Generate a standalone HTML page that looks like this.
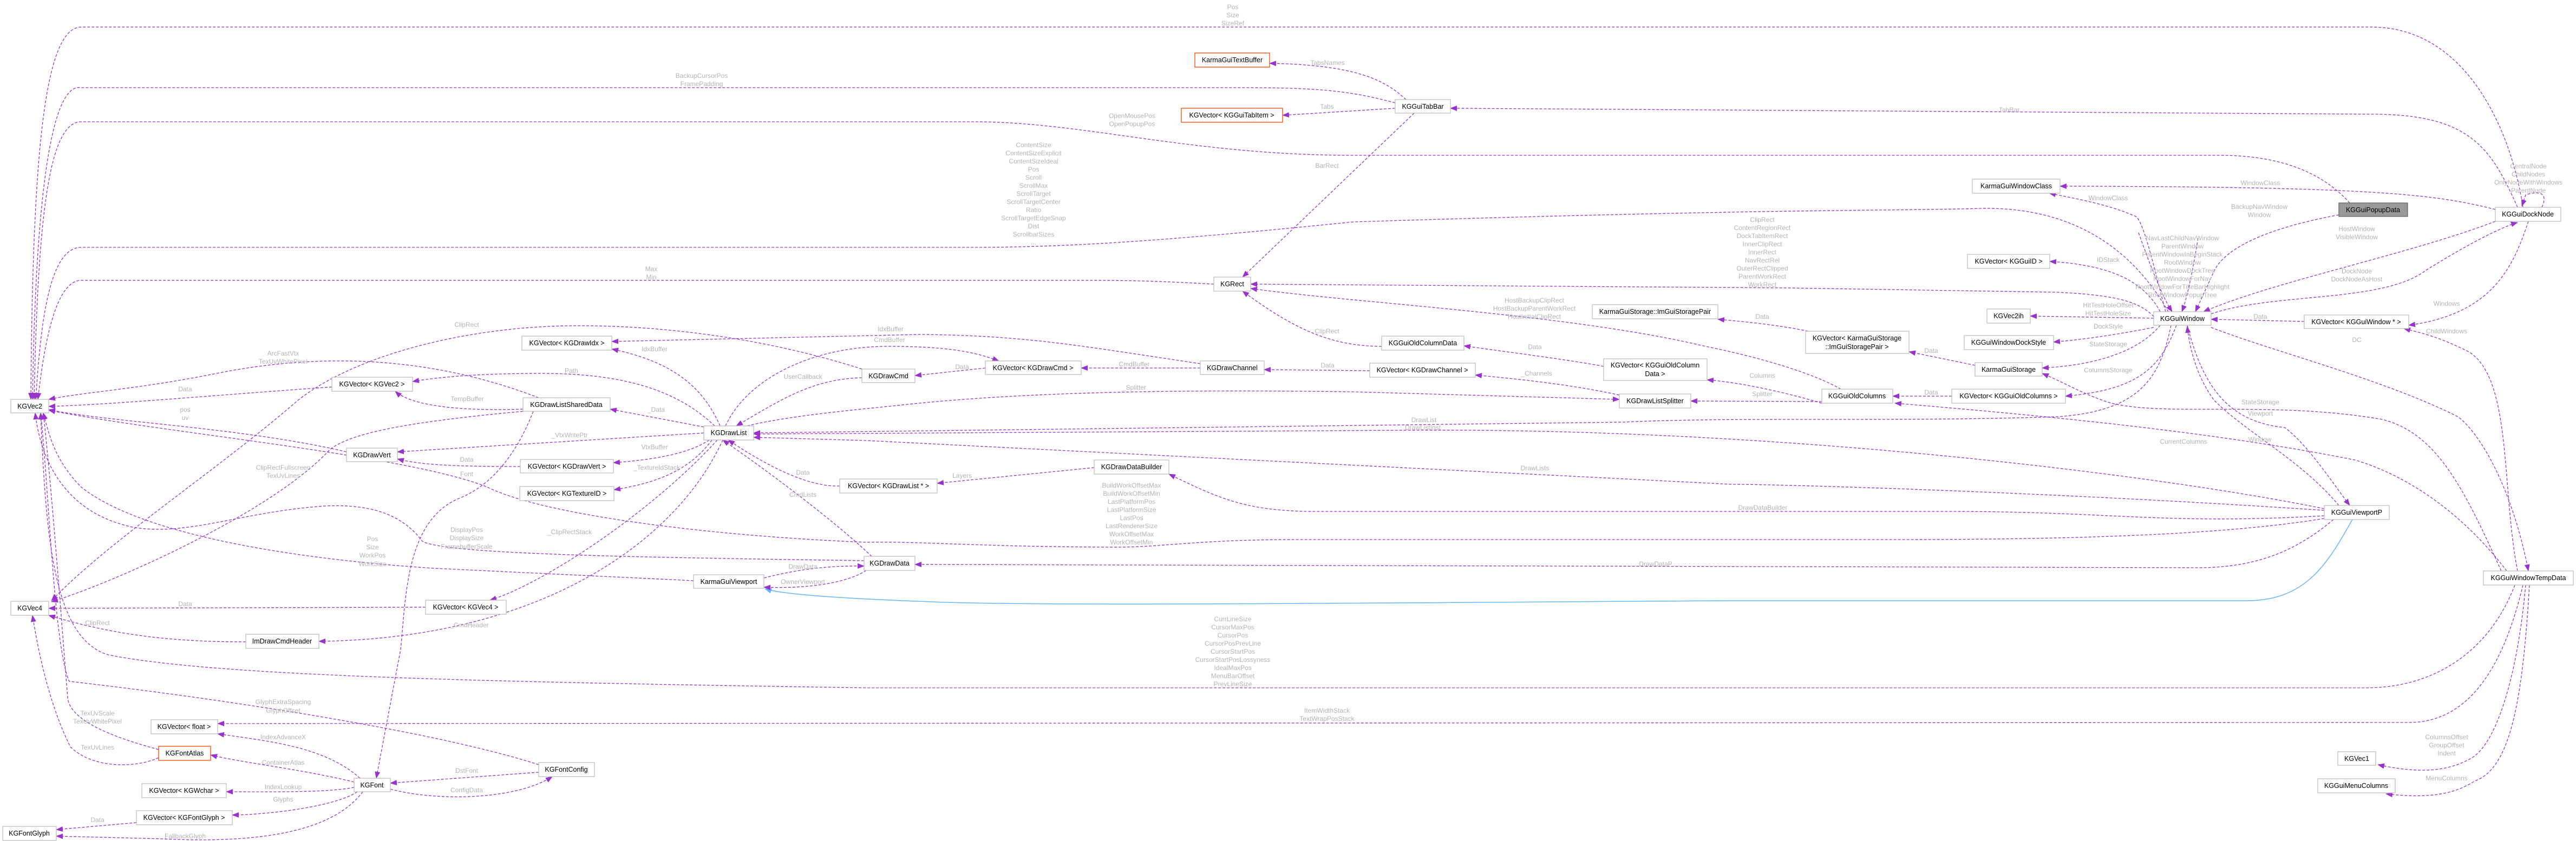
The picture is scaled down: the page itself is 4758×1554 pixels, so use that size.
<!DOCTYPE html>
<html><head><meta charset="utf-8"><style>
html,body{margin:0;padding:0;background:#fff;}
svg{display:block;}
.n rect{fill:#fff;stroke:#bfbfbf;stroke-width:1.3;}
.n text{font-family:"Liberation Sans",sans-serif;font-size:12.5px;fill:#000;text-anchor:middle;}
.e{fill:none;stroke:#9a32cd;stroke-width:1.3;stroke-dasharray:5,3;marker-end:url(#a);}
.l{font-family:"Liberation Sans",sans-serif;font-size:12px;fill:#b4b4b4;text-anchor:middle;}
</style></head><body>
<svg width="4758" height="1554" viewBox="0 0 4758 1554" xmlns="http://www.w3.org/2000/svg">
<defs>
<marker id="a" markerUnits="userSpaceOnUse" markerWidth="13" markerHeight="10" refX="12" refY="5" orient="auto"><path d="M0,0 L13,5 L0,10 z" fill="#9a32cd"/></marker>
<marker id="b" markerUnits="userSpaceOnUse" markerWidth="13" markerHeight="10" refX="12" refY="5" orient="auto"><path d="M0,0 L13,5 L0,10 z" fill="#63b8ff"/></marker>
</defs>

<!-- edges -->
<path class="e" d="M4660,383 C4640,250 4560,50 4380,50 L150,50 C80,50 60,300 57,738"/>
<path class="e" d="M2577,190 C2500,170 2450,162 2300,162 L150,162 C90,150 65,400 60,738"/>
<path class="e" d="M4340,375 C4300,330 4230,287 4100,287 L2500,287 C2200,287 2000,225 1800,225 L150,225 C90,225 70,400 63,738"/>
<path class="e" d="M4005,576 C3950,480 3850,382 3660,385 C3500,390 3300,385 2500,410 C2200,440 2000,457 1800,457 L150,457 C90,457 75,600 66,738"/>
<path class="e" d="M2242,525 C2150,520 2100,518 2000,518 L150,518 C100,518 80,650 70,738"/>
<path class="e" d="M2597,184 C2560,150 2510,120 2345,117"/>
<path class="e" d="M2577,200 L2369,213"/>
<path class="e" d="M2612,209 L2295,512"/>
<path class="e" d="M4650,383 C4600,270 4560,211 4380,211 L2679,200"/>
<path class="e" d="M4609,387 C4500,360 4400,345 3805,344"/>
<path class="e" d="M4000,576 C3980,500 3960,410 3945,400 C3900,380 3850,370 3785,357"/>
<path class="e" d="M4320,397 C4250,410 4120,440 4090,500 L4055,576"/>
<path class="e" d="M4695,383 C4710,350 4680,355 4665,360 L4658,381"/>
<path class="e" d="M4609,409 C4450,470 4200,520 4070,576"/>
<path class="e" d="M4084,580 C4200,540 4400,560 4480,500 C4560,450 4620,420 4650,411"/>
<path class="e" d="M3950,430 C3975,500 3995,550 4012,576"/>
<path class="e" d="M4060,440 C4050,500 4040,550 4030,576"/>
<path class="e" d="M3978,585 C3950,555 3900,545 3800,540 L3300,532 L2310,525"/>
<path class="e" d="M3990,576 C3960,520 3900,490 3786,483"/>
<path class="e" d="M3978,588 L3750,584"/>
<path class="e" d="M3978,605 C3900,620 3850,627 3793,632"/>
<path class="e" d="M3990,601 C3950,650 3870,675 3772,680"/>
<path class="e" d="M4020,601 C3990,680 3950,720 3815,732"/>
<path class="e" d="M4256,594 L4084,590"/>
<path class="e" d="M4670,409 C4640,500 4600,580 4449,601"/>
<path class="e" d="M4650,1055 C4620,900 4640,700 4560,650 C4500,620 4470,615 4440,607"/>
<path class="e" d="M4084,605 C4200,650 4400,700 4540,770 C4580,800 4640,900 4670,1055"/>
<path class="e" d="M3648,675 L3526,650"/>
<path class="e" d="M3340,612 C3280,600 3230,595 3173,590"/>
<path class="e" d="M3400,719 C3350,690 3250,660 3150,640 C2900,580 2500,560 2310,533"/>
<path class="e" d="M3365,745 C3280,720 3200,705 3153,702"/>
<path class="e" d="M3365,742 L3123,741"/>
<path class="e" d="M3605,732 L3496,732"/>
<path class="e" d="M2962,677 C2900,665 2780,650 2704,639"/>
<path class="e" d="M2552,640 C2450,640 2380,600 2295,538"/>
<path class="e" d="M4010,601 C3990,700 3950,760 3800,770 C3500,780 3200,770 3000,780 L1392,800"/>
<path class="e" d="M4293,940 C4000,880 3300,790 2600,795 L1392,802"/>
<path class="e" d="M4293,943 C3800,910 3300,895 3200,895 L1600,814 L1392,808"/>
<path class="e" d="M4293,953 C4000,970 3900,945 3600,945 L2430,945 C2300,945 2250,920 2159,876"/>
<path class="e" d="M4293,958 C4100,990 3800,997 3500,997 L2400,997 C2200,997 2150,1012 2050,1011 C1800,1010 1700,1000 1600,1002 C1300,990 1000,950 900,900 C750,840 300,800 90,758"/>
<path class="e" d="M4310,960 C4250,1010 4180,1049 4060,1049 L1690,1043"/>
<path d="M4345,960 C4300,1040 4260,1110 4150,1110 L3200,1110 C2500,1114 2000,1120 1750,1113 C1600,1108 1450,1100 1413,1088" fill="none" stroke="#63b8ff" stroke-width="1.5" marker-end="url(#b)"/>
<path class="e" d="M1411,1068 C1480,1050 1540,1045 1596,1046"/>
<path class="e" d="M1600,1054 C1560,1080 1480,1088 1411,1085"/>
<path class="e" d="M1610,1028 C1560,980 1460,900 1335,813"/>
<path class="e" d="M1281,1073 L800,1050 C500,1030 250,980 150,900 C100,850 90,800 80,763"/>
<path class="e" d="M1596,1036 C1200,1030 820,1025 780,1000 C750,960 700,930 600,935 C450,945 350,990 250,975 C120,950 75,850 65,763"/>
<path class="e" d="M1551,898 C1500,900 1430,870 1345,813"/>
<path class="e" d="M2021,864 L1731,893"/>
<path class="e" d="M4645,1081 C4600,1200 4500,1271 4370,1271 L1600,1271 C900,1260 400,1250 200,1210 C100,1180 85,1000 75,763"/>
<path class="e" d="M4660,1081 C4620,1250 4550,1335 4450,1335 L402,1337"/>
<path class="e" d="M4630,1055 C4550,950 4450,880 4350,850 C4100,800 3800,770 3500,745"/>
<path class="e" d="M4040,601 C4070,720 4120,780 4220,790 C4260,820 4300,880 4340,934"/>
<path class="e" d="M4320,934 C4250,850 4150,800 4090,740 C4060,700 4045,650 4040,603"/>
<path class="e" d="M4620,1055 C4550,900 4500,800 4400,775 C4200,740 4000,770 3900,745 C3850,730 3820,710 3772,690"/>
<path class="e" d="M4665,1081 C4650,1250 4610,1380 4561,1403 C4520,1425 4470,1430 4392,1413"/>
<path class="e" d="M4672,1081 C4660,1280 4640,1420 4571,1443 C4530,1470 4480,1475 4407,1467"/>
<path class="e" d="M1592,698 C1500,700 1440,740 1360,787"/>
<path class="e" d="M1330,787 C1300,720 1250,670 1130,645"/>
<path class="e" d="M2217,672 C2000,640 1900,620 1700,618 L1130,631"/>
<path class="e" d="M2217,680 L1997,680"/>
<path class="e" d="M1340,787 C1380,700 1500,640 1640,640 C1750,640 1800,650 1845,667"/>
<path class="e" d="M1820,680 L1690,694"/>
<path class="e" d="M2530,685 L2335,683"/>
<path class="e" d="M2991,730 C2900,710 2800,700 2725,693"/>
<path class="e" d="M1380,787 C1450,770 1550,760 1650,750 C1900,722 2200,720 2500,724 L2991,738"/>
<path class="e" d="M1592,682 C1400,620 1200,600 1050,602 C850,605 650,660 550,740 C400,870 200,1000 95,1110"/>
<path class="e" d="M1320,787 C1250,720 1150,690 1000,690 C900,690 820,695 762,705"/>
<path class="e" d="M1300,789 L1127,756"/>
<path class="e" d="M1300,800 L734,835"/>
<path class="e" d="M1310,813 C1270,840 1200,850 1133,855"/>
<path class="e" d="M1315,813 C1280,860 1230,890 1134,905"/>
<path class="e" d="M1325,813 C1200,950 1000,1080 905,1109"/>
<path class="e" d="M1335,813 C1250,1000 1000,1180 589,1185"/>
<path class="e" d="M995,735 C800,660 600,650 400,690 C250,720 150,725 90,738"/>
<path class="e" d="M966,756 C850,760 760,750 730,723"/>
<path class="e" d="M966,760 C750,780 650,800 610,830 C500,950 200,1080 95,1112"/>
<path class="e" d="M985,760 C950,850 900,900 850,920 C750,960 750,1100 740,1200 L695,1438"/>
<path class="e" d="M613,715 C400,730 200,748 90,751"/>
<path class="e" d="M640,835 C450,790 200,780 90,757"/>
<path class="e" d="M961,862 C850,862 780,860 734,848"/>
<path class="e" d="M786,1122 L90,1124"/>
<path class="e" d="M454,1186 C300,1186 200,1170 90,1137"/>
<path class="e" d="M995,1413 C800,1350 400,1290 128,1259 C100,1200 90,900 75,763"/>
<path class="e" d="M293,1385 C200,1360 130,1330 125,1290 C110,1100 95,900 80,763"/>
<path class="e" d="M293,1400 C250,1420 170,1420 130,1380 C90,1300 70,1200 60,1137"/>
<path class="e" d="M665,1438 C600,1380 500,1370 402,1356"/>
<path class="e" d="M654,1445 C550,1420 450,1410 389,1395"/>
<path class="e" d="M654,1455 C600,1465 500,1463 418,1463"/>
<path class="e" d="M660,1463 C620,1490 500,1505 429,1506"/>
<path class="e" d="M670,1463 C620,1530 500,1560 300,1550 L104,1545"/>
<path class="e" d="M252,1520 L104,1533"/>
<path class="e" d="M995,1427 L721,1447"/>
<path class="e" d="M721,1458 C800,1480 950,1480 1020,1435"/>

<!-- labels -->
<g class="l">
<text x="2277" y="17">Pos</text><text x="2277" y="32">Size</text><text x="2277" y="47">SizeRef</text>
<text x="1296" y="144">BackupCursorPos</text><text x="1296" y="159">FramePadding</text>
<text x="2452" y="120">TabsNames</text><text x="2451" y="201">Tabs</text>
<text x="2091" y="218">OpenMousePos</text><text x="2091" y="233">OpenPopupPos</text>
<text x="3711" y="207">TabBar</text>
<text x="1909" y="272">ContentSize</text><text x="1909" y="287">ContentSizeExplicit</text><text x="1909" y="302">ContentSizeIdeal</text><text x="1909" y="317">Pos</text><text x="1909" y="332">Scroll</text><text x="1909" y="347">ScrollMax</text><text x="1909" y="362">ScrollTarget</text><text x="1909" y="377">ScrollTargetCenter</text><text x="1909" y="392">Ratio</text><text x="1909" y="407">ScrollTargetEdgeSnap</text><text x="1909" y="422">Dist</text><text x="1909" y="437">ScrollbarSizes</text><text x="1909" y="452">...</text>
<text x="2451" y="310">BarRect</text>
<text x="4670" y="311">CentralNode</text><text x="4670" y="326">ChildNodes</text><text x="4670" y="341">OnlyNodeWithWindows</text><text x="4670" y="356">ParentNode</text>
<text x="4175" y="342">WindowClass</text><text x="3894" y="370">WindowClass</text>
<text x="4173" y="386">BackupNavWindow</text><text x="4173" y="401">Window</text>
<text x="4353" y="427">HostWindow</text><text x="4353" y="442">VisibleWindow</text>
<text x="3255" y="410">ClipRect</text><text x="3255" y="425">ContentRegionRect</text><text x="3255" y="440">DockTabItemRect</text><text x="3255" y="455">InnerClipRect</text><text x="3255" y="470">InnerRect</text><text x="3255" y="485">NavRectRel</text><text x="3255" y="500">OuterRectClipped</text><text x="3255" y="515">ParentWorkRect</text><text x="3255" y="530">WorkRect</text>
<text x="4031" y="444">NavLastChildNavWindow</text><text x="4031" y="459">ParentWindow</text><text x="4031" y="474">ParentWindowInBeginStack</text><text x="4031" y="489">RootWindow</text><text x="4031" y="504">RootWindowDockTree</text><text x="4031" y="519">RootWindowForNav</text><text x="4031" y="534">RootWindowForTitleBarHighlight</text><text x="4031" y="549">RootWindowPopupTree</text>
<text x="3894" y="484">IDStack</text>
<text x="4353" y="505">DockNode</text><text x="4353" y="520">DockNodeAsHost</text>
<text x="1203" y="501">Max</text><text x="1203" y="516">Min</text>
<text x="4519" y="565">Windows</text>
<text x="3894" y="568">HitTestHoleOffset</text><text x="3894" y="583">HitTestHoleSize</text>
<text x="4175" y="589">Data</text><text x="3255" y="589">Data</text>
<text x="4519" y="616">ChildWindows</text><text x="3894" y="607">DockStyle</text><text x="4353" y="632">DC</text>
<text x="3894" y="640">StateStorage</text><text x="3567" y="652">Data</text>
<text x="3255" y="698">Columns</text><text x="3894" y="688">ColumnsStorage</text><text x="3567" y="729">Data</text><text x="3255" y="732">Splitter</text>
<text x="4175" y="747">StateStorage</text><text x="4175" y="768">Viewport</text>
<text x="2834" y="559">HostBackupClipRect</text><text x="2834" y="574">HostBackupParentWorkRect</text><text x="2834" y="589">HostInitialClipRect</text>
<text x="2451" y="616">ClipRect</text><text x="2835" y="645">Data</text>
<text x="1645" y="612">IdxBuffer</text><text x="1643" y="632">CmdBuffer</text>
<text x="2095" y="677">CmdBuffer</text><text x="1777" y="682">Data</text><text x="2452" y="679">Data</text><text x="2838" y="694">_Channels</text><text x="2095" y="720">_Splitter</text>
<text x="2630" y="780">DrawList</text><text x="2628" y="794">DrawListInst</text><text x="2835" y="869">DrawLists</text>
<text x="1777" y="883">Layers</text>
<text x="2090" y="901">BuildWorkOffsetMax</text><text x="2090" y="916">BuildWorkOffsetMin</text><text x="2090" y="931">LastPlatformPos</text><text x="2090" y="946">LastPlatformSize</text><text x="2090" y="961">LastPos</text><text x="2090" y="976">LastRendererSize</text><text x="2090" y="991">WorkOffsetMax</text><text x="2090" y="1006">WorkOffsetMin</text>
<text x="3256" y="942">DrawDataBuilder</text><text x="3058" y="1046">DrawDataP</text>
<text x="4033" y="820">CurrentColumns</text><text x="4174" y="816">Window</text>
<text x="2277" y="1148">CurrLineSize</text><text x="2277" y="1163">CursorMaxPos</text><text x="2277" y="1178">CursorPos</text><text x="2277" y="1193">CursorPosPrevLine</text><text x="2277" y="1208">CursorStartPos</text><text x="2277" y="1223">CursorStartPosLossyness</text><text x="2277" y="1238">IdealMaxPos</text><text x="2277" y="1253">MenuBarOffset</text><text x="2277" y="1268">PrevLineSize</text>
<text x="2451" y="1317">ItemWidthStack</text><text x="2451" y="1332">TextWrapPosStack</text>
<text x="4519" y="1366">ColumnsOffset</text><text x="4519" y="1381">GroupOffset</text><text x="4519" y="1396">Indent</text><text x="4519" y="1442">MenuColumns</text>
<text x="862" y="604">ClipRect</text><text x="523" y="657">ArcFastVtx</text><text x="523" y="672">TexUvWhitePixel</text>
<text x="1209" y="649">IdxBuffer</text><text x="1052" y="689">_Path</text><text x="1483" y="700">UserCallback</text>
<text x="342" y="723">Data</text><text x="863" y="741">TempBuffer</text><text x="1212" y="761">_Data</text>
<text x="342" y="761">pos</text><text x="342" y="776">uv</text>
<text x="1052" y="808">_VtxWritePtr</text><text x="1209" y="830">VtxBuffer</text><text x="862" y="853">Data</text><text x="1213" y="868">_TextureIdStack</text><text x="862" y="880">Font</text>
<text x="1483" y="877">Data</text><text x="1483" y="918">CmdLists</text>
<text x="523" y="868">ClipRectFullscreen</text><text x="523" y="883">TexUvLines</text>
<text x="862" y="983">DisplayPos</text><text x="862" y="998">DisplaySize</text><text x="862" y="1014">FramebufferScale</text>
<text x="1052" y="987">_ClipRectStack</text>
<text x="688" y="1000">Pos</text><text x="688" y="1015">Size</text><text x="688" y="1030">WorkPos</text><text x="688" y="1046">WorkSize</text>
<text x="1483" y="1051">DrawData</text><text x="1483" y="1079">OwnerViewport</text>
<text x="342" y="1120">Data</text><text x="180" y="1155">ClipRect</text><text x="867" y="1159">_CmdHeader</text>
<text x="523" y="1301">GlyphExtraSpacing</text><text x="523" y="1317">GlyphOffset</text>
<text x="180" y="1322">TexUvScale</text><text x="180" y="1337">TexUvWhitePixel</text>
<text x="523" y="1366">IndexAdvanceX</text><text x="180" y="1385">TexUvLines</text><text x="523" y="1413">ContainerAtlas</text>
<text x="862" y="1428">DstFont</text><text x="523" y="1458">IndexLookup</text><text x="862" y="1464">ConfigData</text>
<text x="523" y="1481">Glyphs</text><text x="180" y="1519">Data</text><text x="342" y="1549">FallbackGlyph</text>
</g>

<!-- nodes -->
<g class="n">
<rect x="20" y="738" width="70" height="25"/><text x="55" y="755">KGVec2</text>
<rect x="20" y="1111" width="70" height="26"/><text x="55" y="1128">KGVec4</text>
<rect x="964" y="621" width="166" height="26"/><text x="1047" y="638">KGVector&lt; KGDrawIdx &gt;</text>
<rect x="613" y="697" width="149" height="26"/><text x="687" y="714">KGVector&lt; KGVec2 &gt;</text>
<rect x="966" y="735" width="161" height="25"/><text x="1046" y="752">KGDrawListSharedData</text>
<rect x="1300" y="787" width="92" height="26"/><text x="1346" y="804">KGDrawList</text>
<rect x="640" y="828" width="94" height="25"/><text x="687" y="845">KGDrawVert</text>
<rect x="961" y="849" width="172" height="25"/><text x="1047" y="866">KGVector&lt; KGDrawVert &gt;</text>
<rect x="960" y="899" width="174" height="26"/><text x="1047" y="916">KGVector&lt; KGTextureID &gt;</text>
<rect x="786" y="1109" width="149" height="26"/><text x="860" y="1126">KGVector&lt; KGVec4 &gt;</text>
<rect x="1281" y="1062" width="130" height="25"/><text x="1346" y="1079">KarmaGuiViewport</text>
<rect x="454" y="1172" width="135" height="26"/><text x="521" y="1189">ImDrawCmdHeader</text>
<rect x="279" y="1330" width="123" height="26"/><text x="340" y="1347">KGVector&lt; float &gt;</text>
<rect x="293" y="1379" width="96" height="26" style="stroke:#ff4500"/><text x="341" y="1396">KGFontAtlas</text>
<rect x="654" y="1438" width="67" height="25"/><text x="687" y="1455">KGFont</text>
<rect x="995" y="1409" width="103" height="26"/><text x="1046" y="1426">KGFontConfig</text>
<rect x="262" y="1448" width="156" height="26"/><text x="340" y="1465">KGVector&lt; KGWchar &gt;</text>
<rect x="252" y="1498" width="177" height="26"/><text x="340" y="1515">KGVector&lt; KGFontGlyph &gt;</text>
<rect x="5" y="1527" width="99" height="26"/><text x="54" y="1544">KGFontGlyph</text>
<rect x="1551" y="885" width="180" height="26"/><text x="1641" y="902">KGVector&lt; KGDrawList * &gt;</text>
<rect x="1596" y="1028" width="94" height="26"/><text x="1643" y="1045">KGDrawData</text>
<rect x="1592" y="682" width="98" height="25"/><text x="1641" y="699">KGDrawCmd</text>
<rect x="2207" y="98" width="138" height="26" style="stroke:#ff4500"/><text x="2276" y="115">KarmaGuiTextBuffer</text>
<rect x="2577" y="184" width="102" height="25"/><text x="2628" y="201">KGGuiTabBar</text>
<rect x="2182" y="200" width="187" height="26" style="stroke:#ff4500"/><text x="2275" y="217">KGVector&lt; KGGuiTabItem &gt;</text>
<rect x="2242" y="512" width="68" height="26"/><text x="2276" y="529">KGRect</text>
<rect x="2941" y="563" width="232" height="26"/><text x="3057" y="580">KarmaGuiStorage::ImGuiStoragePair</text>
<rect x="2552" y="621" width="152" height="26"/><text x="2628" y="638">KGGuiOldColumnData</text>
<rect x="2962" y="663" width="191" height="40"/><text x="3057" y="679">KGVector&lt; KGGuiOldColumn</text><text x="3057" y="695">Data &gt;</text>
<rect x="1820" y="667" width="177" height="25"/><text x="1908" y="684">KGVector&lt; KGDrawCmd &gt;</text>
<rect x="2217" y="667" width="118" height="25"/><text x="2276" y="684">KGDrawChannel</text>
<rect x="2530" y="671" width="195" height="26"/><text x="2627" y="688">KGVector&lt; KGDrawChannel &gt;</text>
<rect x="2991" y="728" width="132" height="26"/><text x="3057" y="745">KGDrawListSplitter</text>
<rect x="2021" y="850" width="138" height="26"/><text x="2090" y="867">KGDrawDataBuilder</text>
<rect x="3643" y="331" width="162" height="26"/><text x="3724" y="348">KarmaGuiWindowClass</text>
<rect x="4320" y="375" width="127" height="25" style="fill:#999;stroke:#666"/><text x="4383" y="392">KGGuiPopupData</text>
<rect x="4609" y="383" width="121" height="26"/><text x="4669" y="400">KGGuiDockNode</text>
<rect x="3634" y="470" width="152" height="26"/><text x="3710" y="487">KGVector&lt; KGGuiID &gt;</text>
<rect x="3670" y="571" width="80" height="26"/><text x="3710" y="588">KGVec2ih</text>
<rect x="3978" y="576" width="106" height="25"/><text x="4031" y="593">KGGuiWindow</text>
<rect x="4256" y="582" width="193" height="25"/><text x="4352" y="599">KGVector&lt; KGGuiWindow * &gt;</text>
<rect x="3628" y="620" width="165" height="26"/><text x="3710" y="637">KGGuiWindowDockStyle</text>
<rect x="3335" y="612" width="191" height="41"/><text x="3430" y="629">KGVector&lt; KarmaGuiStorage</text><text x="3430" y="645">::ImGuiStoragePair &gt;</text>
<rect x="3648" y="670" width="124" height="25"/><text x="3710" y="687">KarmaGuiStorage</text>
<rect x="3365" y="719" width="131" height="26"/><text x="3430" y="736">KGGuiOldColumns</text>
<rect x="3605" y="719" width="210" height="26"/><text x="3710" y="736">KGVector&lt; KGGuiOldColumns &gt;</text>
<rect x="4293" y="934" width="120" height="26"/><text x="4353" y="951">KGGuiViewportP</text>
<rect x="4587" y="1055" width="166" height="26"/><text x="4670" y="1072">KGGuiWindowTempData</text>
<rect x="4318" y="1389" width="70" height="25"/><text x="4353" y="1406">KGVec1</text>
<rect x="4281" y="1439" width="143" height="26"/><text x="4352" y="1456">KGGuiMenuColumns</text>
</g>
</svg>
</body></html>
